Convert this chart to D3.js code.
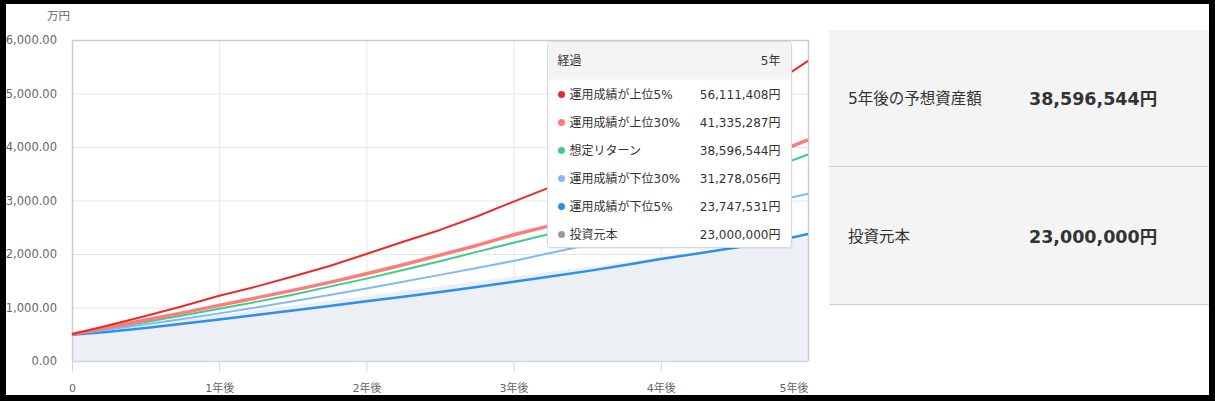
<!DOCTYPE html>
<html>
<head>
<meta charset="utf-8">
<script src="https://cdn.jsdelivr.net/npm/d3@7"></script>
<style>
  html, body { margin: 0; padding: 0; background: #fff; }
  svg { display: block; }
  text { font-family: "DejaVu Sans", "Noto Sans CJK JP", sans-serif; }
</style>
</head>
<body>
<div id="chart"></div>
<script>
// years since start (quarterly readings)
var years = [0, 0.25, 0.5, 0.75, 1, 1.25, 1.5, 1.75, 2, 2.25, 2.5, 2.75, 3, 3.25, 3.5, 3.75, 4, 4.25, 4.5, 4.75, 5];

// values in 万円
var top5    = [500, 670, 840, 1025, 1220, 1390, 1580, 1775, 2000, 2230, 2450, 2700, 2980, 3250, 3520, 3820, 4130, 4450, 4790, 5150, 5611];
var top30   = [500, 630, 765, 900, 1040, 1180, 1320, 1470, 1630, 1800, 1980, 2160, 2360, 2530, 2720, 2930, 3150, 3370, 3600, 3860, 4133];
var expect  = [500, 615, 730, 850, 975, 1105, 1240, 1390, 1540, 1700, 1865, 2040, 2210, 2380, 2560, 2750, 2950, 3150, 3360, 3600, 3860];
var low30   = [500, 590, 685, 785, 890, 1000, 1115, 1235, 1355, 1480, 1610, 1740, 1870, 2020, 2170, 2330, 2490, 2650, 2810, 2970, 3128];
var low5    = [490, 545, 615, 695, 775, 860, 945, 1030, 1115, 1200, 1290, 1385, 1480, 1580, 1680, 1790, 1905, 2010, 2115, 2220, 2375];

// principal, yearly
var principalYears = [0, 1, 2, 3, 4, 5];
var principal = [500, 860, 1220, 1580, 1940, 2300];

var xTickLabels = ["0", "1年後", "2年後", "3年後", "4年後", "5年後"];
var yTicks = [0, 1000, 2000, 3000, 4000, 5000, 6000];

var seriesNames = ["運用成績が上位5%", "運用成績が上位30%", "想定リターン", "運用成績が下位30%", "運用成績が下位5%", "投資元本"];
var seriesColors = ["#ea2a2a", "#ff7b7b", "#3ecb8c", "#80bbf5", "#2d8ff0", "#999999"];
var tooltipValues = ["56,111,408円", "41,335,287円", "38,596,544円", "31,278,056円", "23,747,531円", "23,000,000円"];

var summaryLabels = ["5年後の予想資産額", "投資元本"];
var summaryValues = ["38,596,544円", "23,000,000円"];

var W = 1215, H = 401;
var plot = {left: 72, right: 808, top: 40, bottom: 361};

var svg = d3.select("#chart").append("svg")
  .attr("width", W).attr("height", H);

var x = d3.scaleLinear().domain([0, 5]).range([plot.left, plot.right]);
var y = d3.scaleLinear().domain([0, 6000]).range([plot.bottom, plot.top]);

// grid
svg.append("g")
  .selectAll("line.h")
  .data(yTicks)
  .enter().append("line")
  .attr("x1", plot.left).attr("x2", plot.right)
  .attr("y1", function(d){ return y(d) + 0.5 }).attr("y2", function(d){ return y(d) + 0.5 })
  .attr("stroke", "#e6e6e6");

svg.append("g")
  .selectAll("line.v")
  .data(principalYears)
  .enter().append("line")
  .attr("x1", function(d){ return x(d) + 0.5 }).attr("x2", function(d){ return x(d) + 0.5 })
  .attr("y1", plot.top).attr("y2", plot.bottom)
  .attr("stroke", "#e6e6e6");

// principal area
var area = d3.area()
  .x(function(d, i){ return x(principalYears[i]) })
  .y0(y(0))
  .y1(function(d){ return y(d) });

svg.append("path")
  .datum(principal)
  .attr("d", area)
  .attr("fill", "#eceff4");

// plot border
svg.append("path")
  .attr("d", "M" + (plot.left + 0.5) + "," + plot.bottom + "V" + (plot.top + 0.5) + "H" + (plot.right + 0.5) + "V" + plot.bottom)
  .attr("fill", "none")
  .attr("stroke", "#cccccc")
  .attr("stroke-width", 1.5);

// x axis
var xAxis = svg.append("g")
  .attr("transform", "translate(0," + plot.bottom + ")")
  .call(d3.axisBottom(x).tickValues(principalYears).tickSize(11).tickPadding(12)
    .tickFormat(function(d, i){ return xTickLabels[i] }));
xAxis.select(".domain").attr("stroke", "#ccd6eb").attr("stroke-width", 1.5).attr("d", "M" + plot.left + ",0.5H" + plot.right);
xAxis.selectAll(".tick line").attr("stroke", "#ccd6eb");
xAxis.selectAll(".tick").filter(function(d){ return d === 5 }).select("line").remove();
xAxis.selectAll(".tick text")
  .attr("fill", "#666")
  .style("font-size", "11px")
  .attr("text-anchor", function(d){ return d === 5 ? "end" : "middle" });

// y axis
var yAxis = svg.append("g")
  .attr("transform", "translate(" + (plot.left - 15) + ",0)")
  .call(d3.axisLeft(y).tickValues(yTicks).tickSize(0).tickPadding(0)
    .tickFormat(d3.format(",.2f")));
yAxis.select(".domain").remove();
yAxis.selectAll(".tick text")
  .attr("fill", "#666")
  .style("font-size", "11.5px");

svg.append("text")
  .attr("x", 70).attr("y", 20)
  .attr("text-anchor", "end")
  .attr("fill", "#666")
  .style("font-size", "11.5px")
  .text("万円");

// lines
var lineData = [top5, top30, expect, low30, low5];
var lineWidths = [2, 3.5, 2, 2, 2.5];
var line = d3.line()
  .x(function(d, i){ return x(years[i]) })
  .y(function(d){ return y(d) });

svg.append("g")
  .selectAll("path.series")
  .data(lineData.slice().reverse())
  .enter().append("path")
  .attr("d", function(d){ return line(d) })
  .attr("fill", "none")
  .attr("stroke", function(d, i){ return seriesColors[4 - i] })
  .attr("stroke-width", function(d, i){ return lineWidths[4 - i] })
  .attr("stroke-linejoin", "round");

// tooltip
var tip = svg.append("g").attr("transform", "translate(547.5,41.5)");
var tipW = 244, tipH = 206;
tip.append("rect")
  .attr("x", 1).attr("y", 1.5)
  .attr("width", tipW).attr("height", tipH)
  .attr("rx", 3)
  .attr("fill", "rgba(0,0,0,0.06)");
tip.append("rect")
  .attr("width", tipW).attr("height", tipH)
  .attr("rx", 3)
  .attr("fill", "#fff")
  .attr("stroke", "#d8d8d8");
tip.append("path")
  .attr("d", "M0.5,38V3.5Q0.5,0.5 3.5,0.5H" + (tipW - 3.5) + "Q" + (tipW - 0.5) + ",0.5 " + (tipW - 0.5) + ",3.5V38Z")
  .attr("fill", "#f4f4f4");
tip.append("text")
  .attr("x", 10).attr("y", 23)
  .attr("fill", "#333").style("font-size", "12px")
  .text("経過");
tip.append("text")
  .attr("x", 233).attr("y", 23)
  .attr("text-anchor", "end")
  .attr("fill", "#333").style("font-size", "12px")
  .text("5年");

var rows = tip.selectAll("g.row")
  .data(seriesNames)
  .enter().append("g")
  .attr("transform", function(d, i){ return "translate(0," + (53 + i * 28) + ")" });
rows.append("circle")
  .attr("cx", 14).attr("cy", 0).attr("r", 3.5)
  .attr("fill", function(d, i){ return seriesColors[i] });
rows.append("text")
  .attr("x", 22).attr("y", 4.5)
  .attr("fill", "#333").style("font-size", "12px")
  .text(function(d){ return d });
rows.append("text")
  .attr("x", 233).attr("y", 4.5)
  .attr("text-anchor", "end")
  .attr("fill", "#333").style("font-size", "12px")
  .text(function(d, i){ return tooltipValues[i] });

// summary panel
var panel = svg.append("g");
panel.append("rect")
  .attr("x", 829).attr("y", 30)
  .attr("width", W - 829).attr("height", 275)
  .attr("fill", "#f4f4f4");
panel.selectAll("line.sep")
  .data([167, 305])
  .enter().append("line")
  .attr("x1", 829).attr("x2", W)
  .attr("y1", function(d){ return d - 0.5 }).attr("y2", function(d){ return d - 0.5 })
  .attr("stroke", "#cfcfcf");
panel.selectAll("text.lab")
  .data(summaryLabels)
  .enter().append("text")
  .attr("x", 848)
  .attr("y", function(d, i){ return 104 + i * 138 })
  .attr("fill", "#333")
  .style("font-size", "15.5px")
  .text(function(d){ return d });
panel.selectAll("text.val")
  .data(summaryValues)
  .enter().append("text")
  .attr("x", 1029)
  .attr("y", function(d, i){ return 105 + i * 138 })
  .attr("fill", "#333")
  .style("font-size", "17.5px")
  .style("font-weight", "bold")
  .text(function(d){ return d });

// black frame
var frame = [[0, 0, W, 4], [0, 0, 6, H], [1209, 0, 6, H], [0, 395, W, 6]];
svg.append("g")
  .selectAll("rect")
  .data(frame)
  .enter().append("rect")
  .attr("x", function(d){ return d[0] }).attr("y", function(d){ return d[1] })
  .attr("width", function(d){ return d[2] }).attr("height", function(d){ return d[3] })
  .attr("fill", "#000");
</script>
</body>
</html>
